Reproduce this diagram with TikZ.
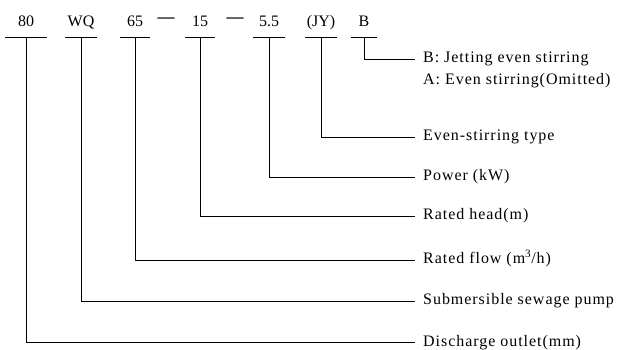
\documentclass[tikz,border=0pt]{standalone}
\usepackage{fontspec}
\setmainfont{Liberation Serif}
\newfontfamily\descfont[LetterSpace=6]{Liberation Serif}
\usetikzlibrary{positioning}
\tikzstyle{code} = [inner sep=0pt, text height=12pt, text depth=10pt, anchor=base]
\tikzstyle{desc} = [inner xsep=8pt, inner ysep=0pt, text height=11pt, text depth=3pt, anchor=west, font=\fontsize{16}{19}\descfont]
\tikzstyle{hyphen} = [inner sep=0pt, anchor=base, font=\fontsize{17}{19}\selectfont\bfseries]
\tikzstyle{lead} = [line width=0.8pt]

\begin{document}
\begin{tikzpicture}[x=1pt, y=-1pt, font=\fontsize{16}{19}\selectfont]
    \useasboundingbox (0,0) rectangle (630,350);

    % model code
    \node (c80) [code, minimum width=42pt] at (26, 27) {80};
    \node (cWQ) [code, minimum width=31pt] at (81, 27) {WQ};
    \node (c65) [code, minimum width=30pt] at (135, 27) {65};
    \node (h1) [hyphen] at (166, 23) {—};
    \node (c15) [code, minimum width=30pt] at (200, 27) {15};
    \node (h2) [hyphen] at (235, 23) {—};
    \node (c55) [code, minimum width=31pt] at (269, 27) {5.5};
    \node (cJY) [code, minimum width=32pt] at (321, 27) {(JY)};
    \node (cB) [code, minimum width=26pt] at (364, 27) {B};

    \foreach \n in {c80, cWQ, c65, c15, c55, cJY, cB}
        \draw [lead] (\n.south west) -- (\n.south east);

    % meanings
    \node (dB) [desc] at (415, 59) {B: Jetting even stirring};
    \node (dA) [desc, below=7pt of dB.south west, anchor=north west] {A: Even stirring(Omitted)};
    \node (dJY) [desc] at (415, 137) {Even-stirring type};
    \node (d55) [desc] at (415, 177) {Power (kW)};
    \node (d15) [desc] at (415, 216) {Rated head(m)};
    \node (d65) [desc] at (415, 260) {Rated flow (m\textsuperscript{3}/h)};
    \node (dWQ) [desc] at (415, 301) {Submersible sewage pump};
    \node (d80) [desc] at (415, 342) {Discharge outlet(mm)};

    \draw [lead] (cB.south) |- (dB.west);
    \draw [lead] (cJY.south) |- (dJY.west);
    \draw [lead] (c55.south) |- (d55.west);
    \draw [lead] (c15.south) |- (d15.west);
    \draw [lead] (c65.south) |- (d65.west);
    \draw [lead] (cWQ.south) |- (dWQ.west);
    \draw [lead] (c80.south) |- (d80.west);

\end{tikzpicture}
\end{document}
